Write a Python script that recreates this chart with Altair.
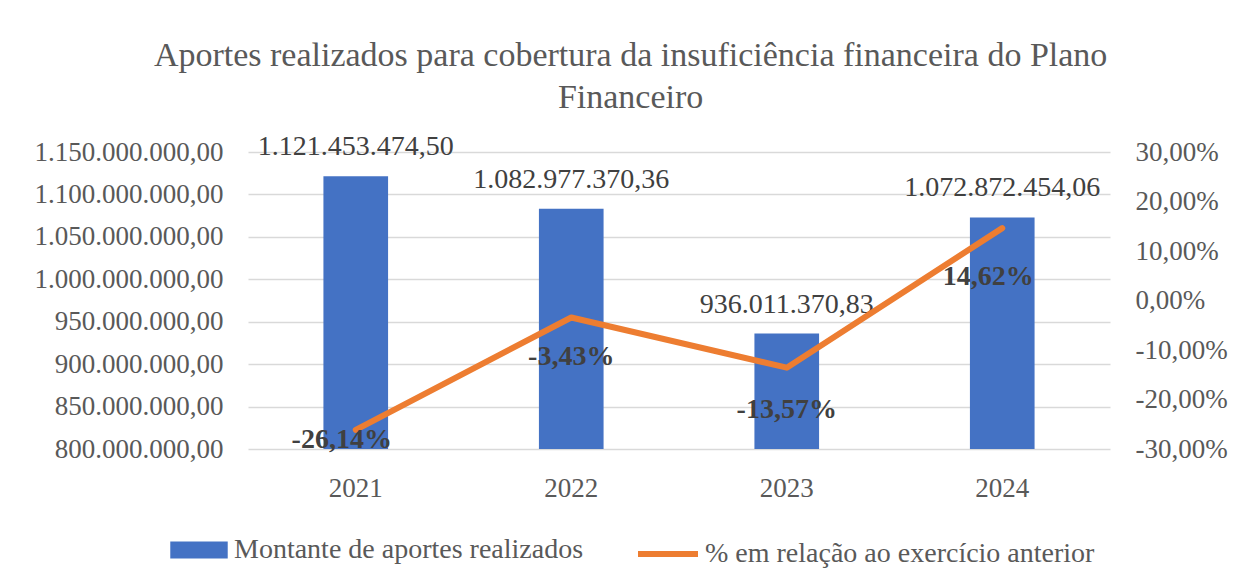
import altair as alt
import pandas as pd

years = ["2021", "2022", "2023", "2024"]
amounts = [1121453474.50, 1082977370.36, 936011370.83, 1072872454.06]
pct_change = [-26.14, -3.43, -13.57, 14.62]
left_ticks = [800e6, 850e6, 900e6, 950e6, 1000e6, 1050e6, 1100e6, 1150e6]
right_ticks = [-30, -20, -10, 0, 10, 20, 30]
series_bar = "Montante de aportes realizados"
series_line = "% em relação ao exercício anterior"
title_lines = ["Aportes realizados para cobertura da insuficiência financeira do Plano", "Financeiro"]

df = pd.DataFrame({"ano": years, "montante": amounts, "pct": pct_change})
df["s1"] = series_bar
df["s2"] = series_line

FONT = "Liberation Serif"
GRAY = "#595959"
DARK = "#404040"
FS = 28
AFS = 27


def br(expr):
    return ("replace(replace(replace(" + expr +
            ", regexp(',', 'g'), '_'), regexp('[.]', 'g'), ','), regexp('_', 'g'), '.')")


def pctfmt(expr):
    return "replace(replace(format(" + expr + ", '.2f'), '.', ','), '\u2212', '-') + '%'"


xscale = alt.Scale(domain=years, paddingInner=0.7, paddingOuter=0.35)
xaxis = alt.Axis(labelAngle=0, labelFont=FONT, labelFontSize=AFS, labelColor=GRAY,
                 labelPadding=26, domain=False, ticks=False, grid=False, title=None)
xenc = alt.X("ano:N", scale=xscale, title=None, axis=xaxis)
yl_scale = alt.Scale(domain=[800e6, 1150e6], nice=False, zero=False)
yr_scale = alt.Scale(domain=[-30, 30], nice=False, zero=False)
yl_axis = alt.Axis(values=left_ticks, labelExpr=br("format(datum.value, ',.2f')"),
                   labelFont=FONT, labelFontSize=AFS, labelColor=GRAY, labelPadding=25,
                   labelLimit=400,
                   domain=False, ticks=False, grid=True, gridColor="#D9D9D9", gridWidth=1.5,
                   orient="left", title=None)
yr_axis = alt.Axis(values=right_ticks, labelExpr=pctfmt("datum.value"),
                   labelFont=FONT, labelFontSize=AFS, labelColor=GRAY, labelPadding=25,
                   labelLimit=400,
                   domain=False, ticks=False, grid=False, orient="right", title=None)

base = alt.Chart(df)

bars = base.mark_bar(color="#4472C4", clip=True).encode(
    x=xenc,
    y=alt.Y("montante:Q", scale=yl_scale, title=None, axis=yl_axis),
    color=alt.Color("s1:N", scale=alt.Scale(domain=[series_bar], range=["#4472C4"]),
                    legend=alt.Legend(orient="none", legendX=-78, legendY=369, title=None,
                                      symbolType="M-1,-0.3H1V0.3H-1Z", symbolSize=3300,
                                      symbolStrokeWidth=0, symbolOpacity=1,
                                      labelFont=FONT, labelFontSize=FS,
                                      labelColor=GRAY, labelOffset=6, labelLimit=600)),
)

bar_labels = base.transform_calculate(
    lbl=br("format(datum.montante, ',.2f')")
).mark_text(font=FONT, fontSize=FS, color=DARK, dy=-29, baseline="middle").encode(
    x=alt.X("ano:N", scale=xscale, title=None, axis=xaxis),
    y=alt.Y("montante:Q", scale=yl_scale, title=None, axis=yl_axis),
    text="lbl:N",
)

left = alt.layer(bars, bar_labels)

line = base.mark_line(strokeWidth=6, strokeCap="round", strokeJoin="round").encode(
    x=alt.X("ano:N", scale=xscale, title=None, axis=xaxis),
    y=alt.Y("pct:Q", scale=yr_scale, title=None, axis=yr_axis),
    stroke=alt.Stroke("s2:N", scale=alt.Scale(domain=[series_line], range=["#ED7D31"]),
                      legend=alt.Legend(orient="none", legendX=387, legendY=369, title=None,
                                        symbolType="stroke", symbolSize=3600, symbolStrokeWidth=6,
                                        labelFont=FONT, labelFontSize=FS, labelColor=GRAY,
                                        labelOffset=4, labelLimit=600)),
)

pct_base = base.transform_calculate(lbl=pctfmt("datum.pct"))


def pct_layer(year, dx, dy):
    return pct_base.transform_filter(alt.datum.ano == year).mark_text(
        font=FONT, fontSize=FS, fontWeight="bold", color=DARK, dx=dx, dy=dy, baseline="middle"
    ).encode(
        x=alt.X("ano:N", scale=xscale, title=None, axis=xaxis),
        y=alt.Y("pct:Q", scale=yr_scale, title=None, axis=yr_axis),
        text="lbl:N",
    )


right = alt.layer(
    line,
    pct_layer("2021", -14, 10),
    pct_layer("2022", 0, 40),
    pct_layer("2023", 0, 42),
    pct_layer("2024", -14, 49),
)

chart = alt.layer(left, right).resolve_scale(y="independent").properties(
    width=862,
    height=297,
    title=alt.TitleParams(title_lines, font=FONT, fontSize=34, fontWeight="normal",
                          color=GRAY, anchor="middle", frame="bounds", lineHeight=42,
                          offset=18),
    autosize=alt.AutoSizeParams(type="none"),
    padding={"left": 240, "top": 144, "right": 127, "bottom": 129},
).configure_view(stroke=None).configure_legend(labelFont=FONT)

chart.save("out.html", embed_options={"renderer": "svg", "actions": False})
